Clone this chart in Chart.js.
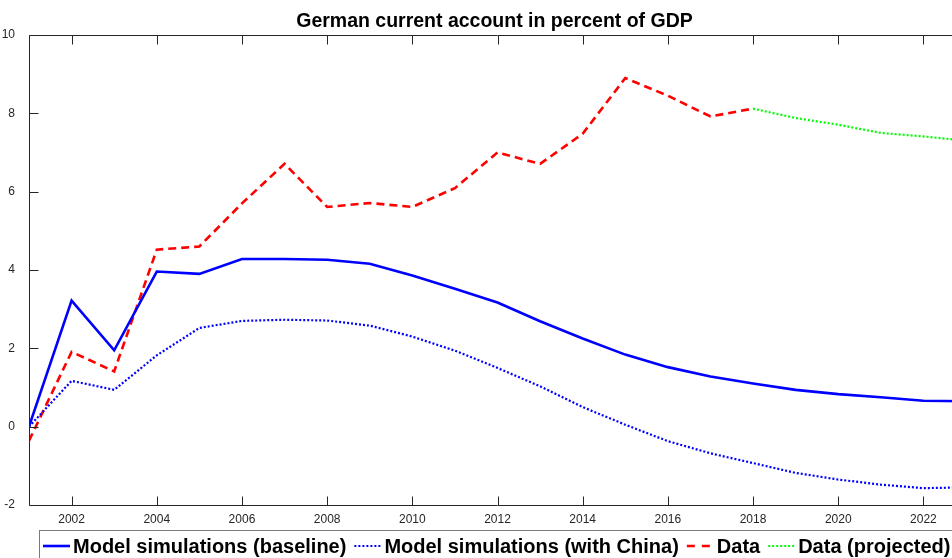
<!DOCTYPE html>
<html><head><meta charset="utf-8">
<script src="https://cdn.jsdelivr.net/npm/chart.js@4/dist/chart.umd.min.js"></script>
<style>html,body{margin:0;padding:0;overflow:hidden;background:#fff;width:952px;height:558px}canvas{display:block}</style>
</head><body>
<canvas id="c" width="966" height="558"></canvas>
<script>
const chartTitle = "German current account in percent of GDP";
const modelYears = [2001,2002,2003,2004,2005,2006,2007,2008,2009,2010,2011,2012,2013,2014,2015,2016,2017,2018,2019,2020,2021,2022,2023];
const baseline   = [0,3.22,1.95,3.96,3.9,4.28,4.28,4.26,4.16,3.86,3.52,3.17,2.69,2.25,1.84,1.52,1.28,1.1,0.94,0.83,0.75,0.66,0.65];
const withChina  = [0,1.17,0.94,1.82,2.52,2.7,2.73,2.71,2.58,2.3,1.94,1.5,1.03,0.5,0.05,-0.37,-0.68,-0.93,-1.18,-1.35,-1.48,-1.57,-1.55];
const dataYears  = [2001,2002,2003,2004,2005,2006,2007,2008,2009,2010,2011,2012,2013,2014,2015,2016,2017,2018];
const dataValues = [-0.36,1.91,1.41,4.52,4.6,5.7,6.71,5.61,5.71,5.61,6.09,7.0,6.71,7.48,8.9,8.45,7.92,8.12];
const projYears  = [2018,2019,2020,2021,2022,2023];
const projValues = [8.12,7.88,7.71,7.5,7.41,7.3];
const seriesLabels = ["Model simulations (baseline)","Model simulations (with China)","Data","Data (projected)"];
const xTickValues = [2002,2004,2006,2008,2010,2012,2014,2016,2018,2020,2022];
const yTickValues = [-2,0,2,4,6,8,10];

const pts = (xs, ys) => xs.map((x, i) => ({x, y: ys[i]}));
const AXIS = '#262626';
const TICKFONT = {family: 'Arial, "Liberation Sans", Helvetica, sans-serif', size: 12};

const framePlugin = {
  id: 'frame',
  afterDraw(chart) {
    const {ctx, chartArea: a, scales: {x, y}} = chart;
    ctx.save();
    ctx.strokeStyle = AXIS; ctx.lineWidth = 1; ctx.setLineDash([]);
    const L = Math.round(a.left) + 0.5, R = Math.round(a.right) - 0.5;
    const T = Math.round(a.top) + 0.5, B = Math.round(a.bottom) + 0.5;
    ctx.beginPath();
    ctx.moveTo(L, T); ctx.lineTo(R, T); ctx.lineTo(R, B); ctx.lineTo(L, B); ctx.closePath();
    ctx.stroke();
    const tl = 9;
    ctx.beginPath();
    xTickValues.forEach(v => {
      const px = Math.round(x.getPixelForValue(v)) + 0.5;
      ctx.moveTo(px, B); ctx.lineTo(px, B - tl);
      ctx.moveTo(px, T); ctx.lineTo(px, T + tl);
    });
    yTickValues.forEach(v => {
      const py = Math.round(y.getPixelForValue(v)) + 0.5;
      ctx.moveTo(L, py); ctx.lineTo(L + tl, py);
      ctx.moveTo(R, py); ctx.lineTo(R - tl, py);
    });
    ctx.stroke();
    // title
    ctx.fillStyle = '#000';
    ctx.font = 'bold 19.5px Arial, "Liberation Sans", sans-serif';
    ctx.textAlign = 'center'; ctx.textBaseline = 'alphabetic';
    ctx.fillText(chartTitle, (a.left + a.right) / 2 - 3, 27);
    // legend
    const ly = 546;
    ctx.strokeStyle = '#7a7a7a'; ctx.lineWidth = 1;
    ctx.strokeRect(39.5, 530.5, 1000, 40);
    ctx.font = 'bold 20px Arial, "Liberation Sans", sans-serif';
    ctx.textAlign = 'left'; ctx.textBaseline = 'middle';
    let lx = 43;
    chart.data.datasets.forEach(ds => {
      ctx.save();
      ctx.strokeStyle = ds.borderColor; ctx.lineWidth = ds.borderWidth;
      ctx.setLineDash(ds.legendDash || ds.borderDash || []);
      ctx.beginPath(); ctx.moveTo(lx, ly); ctx.lineTo(lx + 27, ly); ctx.stroke();
      ctx.restore();
      lx += 30;
      ctx.fillStyle = '#000';
      ctx.fillText(ds.label, lx, ly + 1);
      lx += ctx.measureText(ds.label).width + 8;
    });
    ctx.restore();
  }
};

new Chart(document.getElementById('c'), {
  type: 'line',
  data: {
    datasets: [
      {label: seriesLabels[0], data: pts(modelYears, baseline), borderColor: '#0000ff', borderWidth: 2.6, pointRadius: 0, tension: 0, fill: false},
      {label: seriesLabels[1], data: pts(modelYears, withChina), borderColor: '#0000ff', borderWidth: 2.2, borderDash: [2, 2], pointRadius: 0, tension: 0, fill: false},
      {label: seriesLabels[2], data: pts(dataYears, dataValues), borderColor: '#ff0000', borderWidth: 2.6, borderDash: [8, 5], legendDash: [8, 7], pointRadius: 0, tension: 0, fill: false},
      {label: seriesLabels[3], data: pts(projYears, projValues), borderColor: '#00ff00', borderWidth: 2.2, borderDash: [2, 2], pointRadius: 0, tension: 0, fill: false}
    ]
  },
  options: {
    responsive: false,
    animation: false,
    events: [],
    layout: {padding: {top: 35, left: 0, right: 0, bottom: 0}},
    plugins: {legend: {display: false}, title: {display: false}, tooltip: {enabled: false}},
    scales: {
      x: {
        type: 'linear', min: 2001, max: 2023,
        afterBuildTicks: s => { s.ticks = xTickValues.map(v => ({value: v})); },
        afterFit: s => { s.height = 53; },
        grid: {display: false}, border: {display: false},
        ticks: {autoSkip: false, maxRotation: 0, padding: -1, color: AXIS, font: TICKFONT, callback: v => String(v)}
      },
      y: {
        min: -2, max: 10,
        afterBuildTicks: s => { s.ticks = yTickValues.map(v => ({value: v})); },
        afterFit: s => { s.width = 29; },
        grid: {display: false}, border: {display: false},
        ticks: {padding: 6, color: AXIS, font: TICKFONT, callback: v => String(v)}
      }
    }
  },
  plugins: [framePlugin]
});
</script>
</body></html>
